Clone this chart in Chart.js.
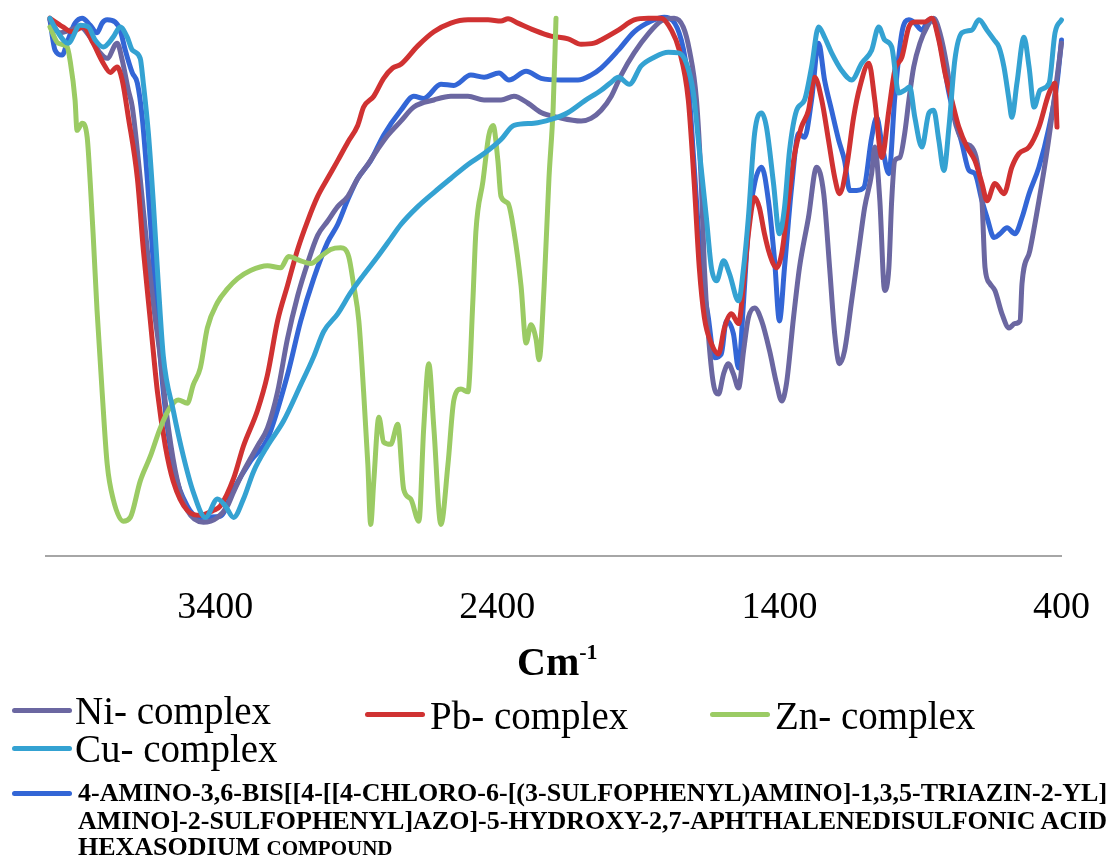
<!DOCTYPE html>
<html><head><meta charset="utf-8">
<script src="https://cdn.jsdelivr.net/npm/chart.js@4.4.1/dist/chart.umd.min.js"></script>
<style>
html,body{margin:0;padding:0;background:#fff;}
#wrap{position:relative;width:1119px;height:856px;overflow:hidden;font-family:"Liberation Serif","Times New Roman",serif;color:#000;}
canvas{position:absolute;left:0;top:0;}
.t{position:absolute;white-space:nowrap;line-height:1;}
.sw{position:absolute;height:5px;border-radius:3px;}
.cmp{position:absolute;white-space:nowrap;line-height:1;font-size:26px;font-weight:bold;transform-origin:0 0;transform:scaleX(1.0);}
</style></head><body>
<div id="wrap">
<canvas id="c" width="1119" height="856"></canvas>
<div class="t" style="left:517px;top:642px;font-size:40px;font-weight:bold;">Cm<span style="font-size:22px;position:relative;top:-16px;">-1</span></div>

<div class="sw" style="left:12px;top:708px;width:60px;background:#6b67a1"></div>
<div class="t" style="left:75px;top:691px;font-size:39px;">Ni- complex</div>
<div class="sw" style="left:365px;top:712px;width:60px;background:#d03232"></div>
<div class="t" style="left:430px;top:696px;font-size:39px;">Pb- complex</div>
<div class="sw" style="left:710px;top:712px;width:60px;background:#9bcb64"></div>
<div class="t" style="left:775px;top:696px;font-size:39px;">Zn- complex</div>
<div class="sw" style="left:12px;top:746px;width:60px;background:#34a2d2"></div>
<div class="t" style="left:75px;top:729px;font-size:39px;">Cu- complex</div>

<div class="sw" style="left:12px;top:791px;width:60px;background:#3366d6"></div>
<div class="cmp" style="left:78px;top:780px;">4-AMINO-3,6-BIS[[4-[[4-CHLORO-6-[(3-SULFOPHENYL)AMINO]-1,3,5-TRIAZIN-2-YL]</div>
<div class="cmp" style="left:78px;top:808px;">AMINO]-2-SULFOPHENYL]AZO]-5-HYDROXY-2,7-APHTHALENEDISULFONIC ACID</div>
<div class="cmp" style="left:78px;top:834px;">HEXASODIUM <span style="font-size:21px">COMPOUND</span></div>
</div>
<script>
// x: wavenumber (cm-1), y: transmittance (%)
const xTicks = [3400, 2400, 1400, 400];

const niComplex = [[3986,99.1],[3950,96.7],[3915,97.2],[3879,97.8],[3843,95.9],[3808,93],[3783,92],[3748,94.8],[3730,91.7],[3708,86.1],[3694,83],[3666,69.8],[3641,56.7],[3620,46.9],[3595,36.9],[3566,23.7],[3534,13.9],[3499,8.5],[3442,6.3],[3392,7.2],[3357,9.3],[3335,11.9],[3300,15.7],[3250,20.4],[3215,23.7],[3179,30.4],[3144,40.2],[3108,48.1],[3073,54.1],[3037,59.3],[3002,61.9],[2966,64.6],[2930,66.5],[2895,69.8],[2859,72.4],[2824,75.2],[2788,77.8],[2742,80.4],[2696,83],[2625,84.3],[2565,85],[2504,85],[2447,84.3],[2387,84.3],[2341,85],[2291,83.7],[2245,82],[2185,81.1],[2103,80.4],[2068,80.9],[2032,82.4],[1996,85],[1961,88.9],[1915,93],[1865,96.5],[1819,98.9],[1773,99.4],[1741,97.8],[1719,93.5],[1694,84.3],[1677,68.9],[1666,53.3],[1652,41.1],[1634,31.9],[1616,30],[1598,33.7],[1581,35.6],[1563,33.7],[1545,31.1],[1527,38],[1510,44.1],[1488,45.9],[1463,43.5],[1435,38],[1410,31.9],[1392,28.7],[1375,31.9],[1350,44.1],[1329,53.3],[1297,62.6],[1268,71.9],[1243,67],[1222,53.3],[1204,41.1],[1187,35.6],[1169,38],[1144,47.2],[1119,56.5],[1098,64.4],[1073,70.7],[1062,75.6],[1044,65.7],[1027,49.1],[1012,53.3],[1002,65.7],[991,73.1],[973,73.7],[956,78.1],[941,84.3],[924,90.4],[902,94.8],[877,97.8],[853,99.4],[831,96.7],[806,90.4],[781,81.1],[764,78.1],[742,76.3],[718,75.6],[700,73.1],[682,65.7],[671,53.3],[654,50.4],[636,49.1],[611,44.8],[586,42.2],[565,43],[547,43.5],[540,50.4],[512,56.5],[480,65.7],[451,75],[423,85.6],[400,94.8]];

const pbComplex = [[3986,99.4],[3940,97.8],[3908,96.9],[3868,97.8],[3833,94.8],[3797,91.1],[3772,89.4],[3748,90.4],[3730,88],[3708,81.1],[3676,69.8],[3655,56.7],[3630,43.5],[3605,30.4],[3577,20.4],[3549,13.9],[3499,8.5],[3453,7.6],[3406,8.5],[3382,9.3],[3335,14.4],[3300,20.4],[3250,27],[3215,33.5],[3179,43.5],[3144,50],[3108,56.7],[3073,61.9],[3037,66.5],[3002,69.8],[2966,73.1],[2930,76.5],[2895,79.6],[2874,83],[2838,85],[2803,88.3],[2771,90.2],[2742,90.9],[2682,94.3],[2625,96.9],[2565,98.5],[2504,99.1],[2433,99.1],[2387,98.9],[2362,99.3],[2327,98.5],[2270,97.2],[2210,96.1],[2149,95.6],[2103,94.6],[2057,94.8],[2032,95.4],[1971,97.2],[1915,99.1],[1865,99.4],[1819,99.4],[1783,97.2],[1755,93.5],[1723,84.3],[1702,68.9],[1684,53.3],[1666,44.1],[1641,39.3],[1616,37.4],[1595,42.2],[1570,44.8],[1545,43],[1527,50.4],[1510,59.6],[1488,66.3],[1471,64.4],[1453,59.6],[1435,55.9],[1410,53.3],[1392,55.9],[1368,65.7],[1346,74.4],[1322,79.3],[1297,82.4],[1275,88.5],[1250,84.3],[1226,76.9],[1204,70],[1187,67],[1162,71.9],[1137,81.1],[1115,86.7],[1083,91.1],[1062,84.3],[1037,73.7],[1012,82.4],[991,89.8],[966,92.2],[941,97.8],[920,98.7],[885,98.7],[860,99.4],[835,95.4],[813,89.3],[789,84.3],[764,79.3],[735,75.6],[707,73.1],[682,68.9],[664,65.7],[636,68.9],[604,67],[576,71.9],[551,74.4],[515,75.6],[480,79.3],[444,85.6],[423,87.4],[416,79.3]];

const znComplex = [[3986,97.8],[3957,94.8],[3925,94.1],[3915,91.7],[3897,84.3],[3890,78.7],[3872,80],[3854,77.4],[3843,68.9],[3833,59.6],[3819,45.4],[3801,30.4],[3783,17],[3762,10.6],[3726,6.5],[3701,7.2],[3666,13.9],[3630,18.5],[3595,23.7],[3559,27.6],[3531,28.9],[3499,28.3],[3478,31.7],[3453,34.8],[3428,42.2],[3392,46.9],[3357,49.4],[3321,51.3],[3275,52.8],[3215,53.7],[3168,53.3],[3140,55.4],[3097,54.6],[3062,54.1],[3026,55.4],[2991,56.7],[2955,57],[2927,55.4],[2909,50],[2891,43.5],[2874,30.4],[2859,17],[2849,5.9],[2838,13.9],[2820,25.7],[2803,21.1],[2778,20.7],[2753,24.4],[2732,12.4],[2707,10.6],[2678,6.5],[2661,23.7],[2643,35.6],[2625,23.7],[2600,5.9],[2575,17],[2554,28.9],[2529,30.9],[2504,30.4],[2487,46.9],[2476,60],[2451,69.3],[2430,77.8],[2415,79.6],[2398,73.1],[2387,66.5],[2362,65.2],[2341,60],[2316,50],[2298,39.4],[2281,42.8],[2263,40.2],[2252,36.3],[2234,50],[2217,69.8],[2202,83],[2192,99.4]];

const cuComplex = [[3986,99.4],[3957,96.7],[3922,94.8],[3879,98.1],[3850,97.8],[3826,95.4],[3797,94.1],[3762,95.9],[3737,97.8],[3712,95.9],[3694,93.5],[3666,92],[3655,87.4],[3637,78.1],[3620,65.7],[3602,50.4],[3584,36.9],[3549,27],[3513,18.5],[3478,11.9],[3435,7.2],[3392,10.6],[3364,9.3],[3335,7.2],[3300,10.6],[3264,15.7],[3215,20.4],[3158,25],[3097,31.7],[3051,36.9],[3016,41.5],[2966,44.8],[2920,48.7],[2874,52],[2824,55.4],[2778,58.7],[2742,61.3],[2682,64.6],[2625,67.2],[2565,69.8],[2504,72.4],[2447,74.4],[2387,77],[2341,79.6],[2270,80],[2210,80.7],[2149,82],[2092,84.1],[2032,86.1],[1996,87.6],[1971,88.5],[1932,87.2],[1890,90.6],[1844,92.2],[1794,93.1],[1758,93],[1730,91.1],[1705,85.6],[1684,75],[1659,62.6],[1641,53.3],[1623,50.9],[1598,54.6],[1577,52.2],[1545,47.2],[1527,53.3],[1510,62.6],[1488,78.1],[1463,81.9],[1446,79.3],[1421,68.9],[1400,59.6],[1382,64.4],[1364,75],[1339,82.4],[1311,84.3],[1286,90.4],[1261,97.8],[1240,95.9],[1215,93],[1180,89.8],[1144,88],[1108,91.1],[1073,93.5],[1048,97.8],[1027,95.4],[1002,94.1],[977,85.6],[956,86.1],[938,86.7],[920,81.1],[895,75.6],[870,81.9],[853,82.4],[835,76.9],[817,71.3],[799,79.3],[778,91.7],[753,96.7],[718,97.2],[693,99.1],[664,97.2],[639,95.4],[622,94.1],[604,90.4],[586,84.3],[576,81.1],[558,87.4],[533,95.9],[515,90.4],[497,83],[476,86.1],[444,87.4],[423,96.7],[400,99.1]];

const dyeCompound = [[3986,99.1],[3968,93.5],[3943,92.6],[3922,95.4],[3897,98.5],[3872,99.4],[3843,98.1],[3819,96.7],[3801,98.5],[3783,99.1],[3755,98.7],[3737,97.2],[3719,93.5],[3694,89.3],[3676,87.4],[3659,81.1],[3641,69.8],[3623,56.7],[3605,43.5],[3584,30.4],[3549,17],[3499,9.3],[3453,7.2],[3382,7.4],[3335,12.4],[3275,17.6],[3215,21.7],[3144,33.5],[3097,43.5],[3051,51.3],[3002,58],[2966,61.3],[2930,65.9],[2895,69.8],[2849,73.1],[2803,77.8],[2742,82.4],[2696,85],[2661,84.6],[2600,87.2],[2554,87],[2494,88.9],[2447,88.5],[2394,89.3],[2359,88],[2298,89.6],[2245,88.3],[2174,88],[2114,88],[2068,88.9],[2032,90.2],[1971,93.5],[1915,96.9],[1854,98.9],[1808,99.6],[1748,95.4],[1723,87.4],[1702,71.9],[1677,53.3],[1652,44.1],[1630,36.7],[1606,37.4],[1588,43.5],[1563,41.1],[1545,34.8],[1527,47.2],[1510,60.7],[1488,68.9],[1463,71.9],[1439,65.7],[1417,54.6],[1400,43.5],[1382,53.3],[1357,68.1],[1332,78.1],[1311,77.4],[1286,84.3],[1261,94.8],[1240,88],[1215,82.4],[1190,76.9],[1169,73.1],[1151,67.6],[1126,67.6],[1101,68.1],[1073,77.4],[1055,81.1],[1037,76.3],[1012,70.7],[991,84.8],[966,96.7],[941,99.1],[920,98.5],[895,97.2],[870,99.1],[849,98.5],[824,93],[799,85.6],[778,81.1],[753,76.3],[728,71.3],[707,70.7],[682,65.7],[664,62.6],[639,58.9],[618,59.6],[593,60.7],[565,59.6],[540,62.6],[515,67],[480,71.9],[444,79.3],[416,87.4],[400,95.4]];

const seriesNames = ['Ni- complex','Pb- complex','Zn- complex','Cu- complex','4-AMINO-3,6-BIS[[4-[[4-CHLORO-6-[(3-SULFOPHENYL)AMINO]-1,3,5-TRIAZIN-2-YL]AMINO]-2-SULFOPHENYL]AZO]-5-HYDROXY-2,7-APHTHALENEDISULFONIC ACID HEXASODIUM COMPOUND'];
const seriesData = [niComplex, pbComplex, znComplex, cuComplex, dyeCompound];
const seriesColors = ['#6b67a1','#d03232','#9bcb64','#34a2d2','#3366d6'];
const drawOrder = [4,3,2,1,5];

const datasets = seriesData.map((d,i)=>({
  label: seriesNames[i],
  data: d.map(p=>({x:p[0], y:p[1]})),
  borderColor: seriesColors[i],
  backgroundColor: seriesColors[i],
  borderWidth: 5,
  pointRadius: 0,
  fill: false,
  cubicInterpolationMode: 'monotone',
  borderJoinStyle: 'round',
  borderCapStyle: 'round',
  order: drawOrder[i],
  clip: 8
}));

new Chart(document.getElementById('c'), {
  type: 'line',
  data: { datasets },
  options: {
    responsive: false,
    animation: false,
    layout: { padding: { left: 46, right: 57, top: 15, bottom: 196 } },
    plugins: { legend: { display: false }, tooltip: { enabled: false } },
    scales: {
      x: {
        type: 'linear', reverse: true, min: 400, max: 4000,
        afterBuildTicks: (s) => { s.ticks = xTicks.map(v => ({ value: v })); },
        grid: { display: false, drawTicks: false },
        border: { display: true, color: '#a6a6a6', width: 2 },
        ticks: { callback: (v) => String(v), font: { family: 'Liberation Serif', size: 38 }, color: '#000', padding: 29, maxRotation: 0, autoSkip: false }
      },
      y: { min: 0, max: 100, display: false }
    }
  }
});
</script>
</body></html>
